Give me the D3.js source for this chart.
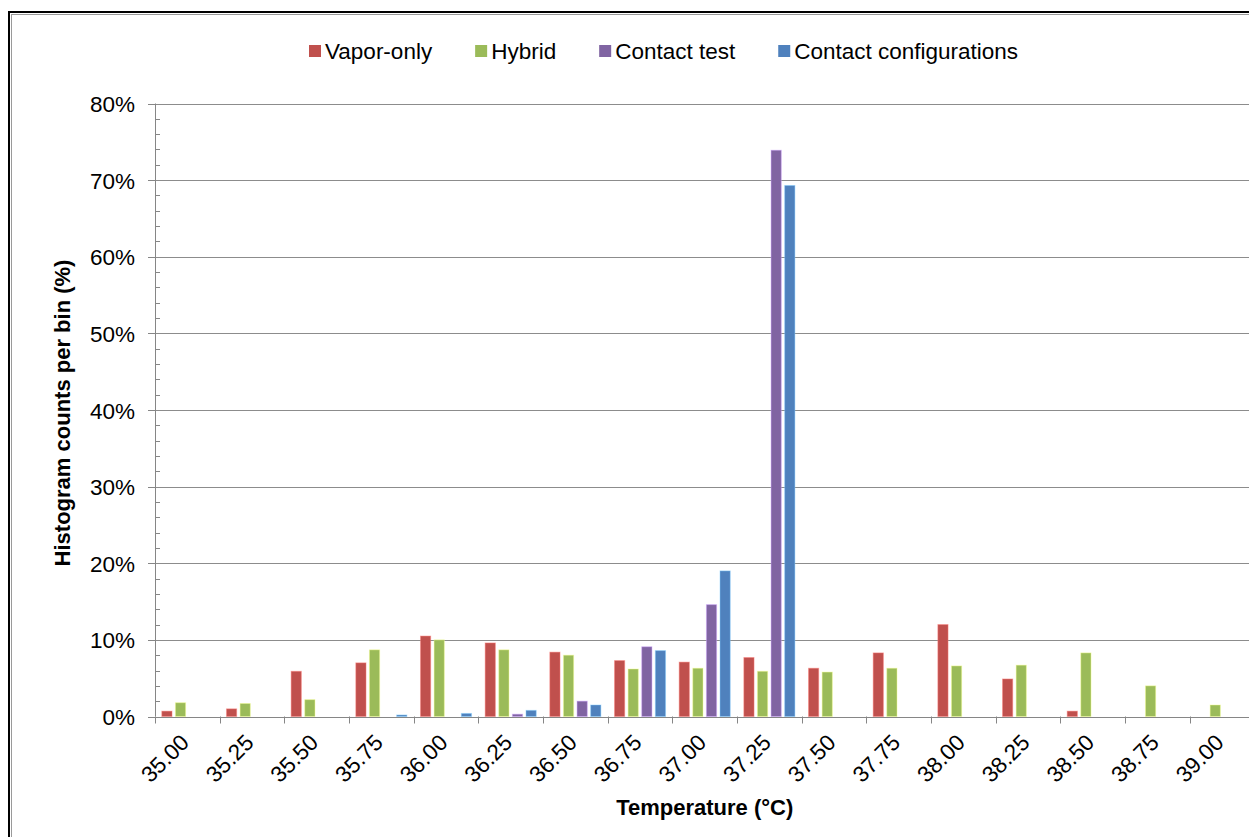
<!DOCTYPE html>
<html>
<head>
<meta charset="utf-8">
<script src="https://cdn.jsdelivr.net/npm/d3@7"></script>
<style>
  html, body { margin: 0; padding: 0; background: #fff; }
  svg { display: block; font-family: "Liberation Sans", Arial, sans-serif; }
</style>
</head>
<body>
<svg id="chart" width="1249" height="837"></svg>
<script>
const categories = ["35.00","35.25","35.50","35.75","36.00","36.25","36.50","36.75","37.00","37.25","37.50","37.75","38.00","38.25","38.50","38.75","39.00"];
const seriesNames = ["Vapor-only","Hybrid","Contact test","Contact configurations"];
const seriesColors = ["#C0504D","#9BBB59","#8064A2","#4F81BD"];
const vaporOnly   = [0.7, 1.0, 5.9, 7.0, 10.5, 9.6, 8.4, 7.3, 7.1, 7.7, 6.3, 8.3, 12.0, 4.9, 0.7, 0, 0];
const hybrid      = [1.8, 1.7, 2.2, 8.7, 10.0, 8.7, 8.0, 6.2, 6.3, 5.9, 5.8, 6.3, 6.6, 6.7, 8.3, 4.0, 1.5];
const contactTest = [0, 0, 0, 0, 0, 0.3, 2.0, 9.1, 14.6, 73.9, 0, 0, 0, 0, 0, 0, 0];
const contactConf = [0, 0, 0, 0.2, 0.4, 0.8, 1.5, 8.6, 19.0, 69.3, 0, 0, 0, 0, 0, 0, 0];
const yTicks = [0, 10, 20, 30, 40, 50, 60, 70, 80];
const yMinorTicks = d3.range(0, 81, 2);

const seriesValues = [vaporOnly, hybrid, contactTest, contactConf];

const svg = d3.select("#chart");
const pLeft = 155, pRight = 1254.4, pTop = 103.5, pBottom = 716.5;

// frame
svg.append("rect").attr("x", 9).attr("y", 12).attr("width", 1400).attr("height", 900)
  .attr("fill", "none").attr("stroke", "#000").attr("stroke-width", 2);
svg.append("rect").attr("x", 11.5).attr("y", 14.5).attr("width", 1400).attr("height", 900)
  .attr("fill", "none").attr("stroke", "#9a9a9a").attr("stroke-width", 1);

const x0 = d3.scaleBand().domain(categories).range([pLeft, pRight]).paddingInner(0).paddingOuter(0);
const bw = x0.bandwidth();
const x1 = d3.scaleBand().domain(seriesNames).range([6.8, bw - 6.8]).paddingInner(0.25);
const y = d3.scaleLinear().domain([0, 80]).range([pBottom, pTop]);

// gridlines
svg.append("g").selectAll("line").data(yTicks.filter(d => d > 0)).join("line")
  .attr("x1", pLeft).attr("x2", pRight)
  .attr("y1", d => Math.round(y(d)) + 0.5).attr("y2", d => Math.round(y(d)) + 0.5)
  .attr("stroke", "#8c8c8c").attr("stroke-width", 1);

// bars
const g = svg.append("g");
seriesValues.forEach((vals, si) => {
  g.append("g").selectAll("rect").data(vals.map((v, i) => ({cat: categories[i], v})).filter(d => d.v > 0))
    .join("rect")
    .attr("x", d => x0(d.cat) + x1(seriesNames[si]))
    .attr("width", x1.bandwidth())
    .attr("y", d => y(d.v))
    .attr("height", d => y(0) - y(d.v))
    .attr("fill", seriesColors[si])
    .attr("stroke", d3.color(seriesColors[si]).brighter(1.3))
    .attr("stroke-opacity", 0.45)
    .attr("stroke-width", 1);
});

// y axis
const yAxisG = svg.append("g");
yAxisG.append("line").attr("x1", pLeft + 0.5).attr("x2", pLeft + 0.5).attr("y1", pTop).attr("y2", pBottom)
  .attr("stroke", "#868686").attr("stroke-width", 1);
yAxisG.selectAll("line.major").data(yTicks).join("line").attr("class", "major")
  .attr("x1", pLeft - 7).attr("x2", pLeft)
  .attr("y1", d => Math.round(y(d)) + 0.5).attr("y2", d => Math.round(y(d)) + 0.5)
  .attr("stroke", "#868686");
yAxisG.selectAll("line.minor").data(yMinorTicks.filter(d => d % 10 !== 0)).join("line").attr("class", "minor")
  .attr("x1", pLeft).attr("x2", pLeft + 5)
  .attr("y1", d => Math.round(y(d)) + 0.5).attr("y2", d => Math.round(y(d)) + 0.5)
  .attr("stroke", "#868686");
yAxisG.selectAll("text").data(yTicks).join("text")
  .attr("x", 135).attr("y", d => y(d) + 8.5)
  .attr("text-anchor", "end").attr("font-size", 22.5).attr("fill", "#000")
  .text(d => d + "%");

// x axis
const xAxisG = svg.append("g");
xAxisG.append("line").attr("x1", pLeft).attr("x2", pRight).attr("y1", Math.round(pBottom) + 0.5).attr("y2", Math.round(pBottom) + 0.5)
  .attr("stroke", "#868686");
const bounds = categories.map(c => x0(c)).concat([pRight]);
xAxisG.selectAll("line.tick").data(bounds).join("line").attr("class", "tick")
  .attr("x1", d => Math.round(d) + 0.5).attr("x2", d => Math.round(d) + 0.5)
  .attr("y1", pBottom).attr("y2", pBottom + 7)
  .attr("stroke", "#868686");
xAxisG.selectAll("text").data(categories).join("text")
  .attr("transform", d => `translate(${x0(d) + bw / 2 + 3},744) rotate(-45)`)
  .attr("text-anchor", "end").attr("font-size", 22.5).attr("fill", "#000")
  .text(d => d);

// axis titles
svg.append("text").attr("x", (pLeft + pRight) / 2).attr("y", 815)
  .attr("text-anchor", "middle").attr("font-size", 22).attr("font-weight", "bold")
  .text("Temperature (°C)");
svg.append("text").attr("transform", "translate(70,413) rotate(-90)")
  .attr("text-anchor", "middle").attr("font-size", 22).attr("font-weight", "bold")
  .text("Histogram counts per bin (%)");

// legend
const leg = svg.append("g");
let lx = 309;
seriesNames.forEach((name, i) => {
  leg.append("rect").attr("x", lx).attr("y", 45).attr("width", 12).attr("height", 12)
    .attr("fill", seriesColors[i]);
  const t = leg.append("text").attr("x", lx + 16).attr("y", 58.5)
    .attr("font-size", 22.5).attr("fill", "#000").text(name);
  lx += 16 + t.node().getComputedTextLength() + 43;
});
</script>
</body>
</html>
